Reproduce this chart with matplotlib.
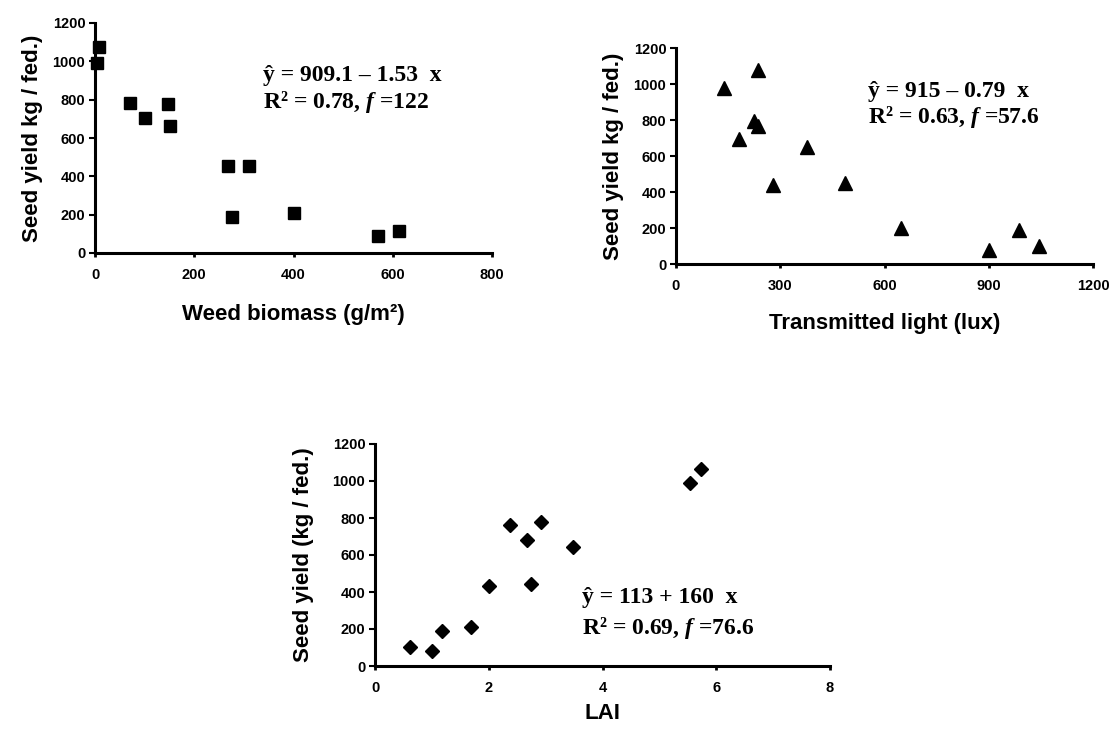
import matplotlib
matplotlib.use("Agg")
import matplotlib.pyplot as plt

# panel 1: weed biomass vs seed yield
biomass = [5, 8, 71, 100, 148, 152, 269, 311, 276, 400, 571, 613]
yield_biomass = [990, 1075, 785, 705, 775, 660, 452, 452, 190, 210, 90, 113]

# panel 2: transmitted light vs seed yield
light = [138, 236, 181, 224, 236, 279, 378, 487, 648, 902, 988, 1045]
yield_light = [978, 1076, 694, 793, 765, 437, 650, 450, 200, 79, 190, 98]

# panel 3: LAI vs seed yield
lai = [0.61, 1.01, 1.17, 1.69, 2.0, 2.38, 2.67, 2.75, 2.92, 3.49, 5.53, 5.73]
yield_lai = [104, 83, 191, 213, 434, 760, 680, 445, 780, 645, 987, 1063]

sans = "Liberation Sans"
serif = "Liberation Serif"

plt.rcParams["mathtext.fontset"] = "custom"
plt.rcParams["mathtext.rm"] = "Liberation Serif:bold"
plt.rcParams["mathtext.bf"] = "Liberation Serif:bold"
plt.rcParams["mathtext.bfit"] = "Liberation Serif:italic:bold"
plt.rcParams["mathtext.it"] = "Liberation Serif:italic:bold"

W, H = 1112, 734
fig = plt.figure(figsize=(W / 100, H / 100), dpi=100)


def box(left, right, bottom, top):
    return [left / W, 1 - bottom / H, (right - left) / W, (bottom - top) / H]


def style(ax, xlim, xticks, xlabel, ylabel, ylab_x, xlab_y):
    ax.set_xlim(*xlim)
    ax.set_ylim(0, 1200)
    ax.set_xticks(xticks)
    ax.set_yticks(range(0, 1201, 200))
    for s in ["top", "right"]:
        ax.spines[s].set_visible(False)
    for s in ["left", "bottom"]:
        ax.spines[s].set_linewidth(2.2)
    ax.tick_params(axis="y", direction="out", length=4, width=1.5, pad=3)
    ax.tick_params(axis="x", direction="out", length=3, width=2, pad=8)
    for lab in ax.get_xticklabels() + ax.get_yticklabels():
        lab.set_fontfamily(sans)
        lab.set_fontsize(10.5)
        lab.set_fontweight("bold")
    ax.set_xlabel(xlabel, fontfamily=sans, fontweight="bold", fontsize=16)
    ax.set_ylabel(ylabel, fontfamily=sans, fontweight="bold", fontsize=16)
    ax.yaxis.set_label_coords(ylab_x, 0.5)
    ax.xaxis.set_label_coords(0.5, xlab_y)


def equation(x, y1, y2, line1, line2):
    fig.text(x / W, 1 - y1 / H, line1, fontfamily=serif,
             fontweight="bold", fontsize=17, va="center")
    fig.text(x / W, 1 - y2 / H, line2, fontfamily=serif,
             fontweight="bold", fontsize=17, va="center")


ax1 = fig.add_axes(box(95, 492, 253, 23))
ax1.plot(biomass, yield_biomass, "s", color="black", ms=8, clip_on=False)
style(ax1, (0, 800), range(0, 801, 200), "Weed biomass (g/m²)",
      "Seed yield kg / fed.)", -0.13, -0.22)
equation(263, 75, 102, "ŷ = 909.1 – 1.53  x", "R² = 0.78, $\\mathbfit{f}$ =122")

ax2 = fig.add_axes(box(676, 1093, 264, 48))
ax2.plot(light, yield_light, "^", color="black", ms=10.5, clip_on=False)
style(ax2, (0, 1200), range(0, 1201, 300), "Transmitted light (lux)",
      "Seed yield kg / fed.)", -0.124, -0.225)
equation(868, 92, 117, "ŷ = 915 – 0.79  x", "R² = 0.63, $\\mathbfit{f}$ =57.6")

ax3 = fig.add_axes(box(375, 830, 666, 444))
ax3.plot(lai, yield_lai, "D", color="black", ms=7.5, clip_on=False)
style(ax3, (0, 8), range(0, 9, 2), "LAI", "Seed yield (kg / fed.)", -0.134, -0.165)
equation(582, 597, 628, "ŷ = 113 + 160  x", "R² = 0.69, $\\mathbfit{f}$ =76.6")

fig.savefig("out.png", dpi=100)
